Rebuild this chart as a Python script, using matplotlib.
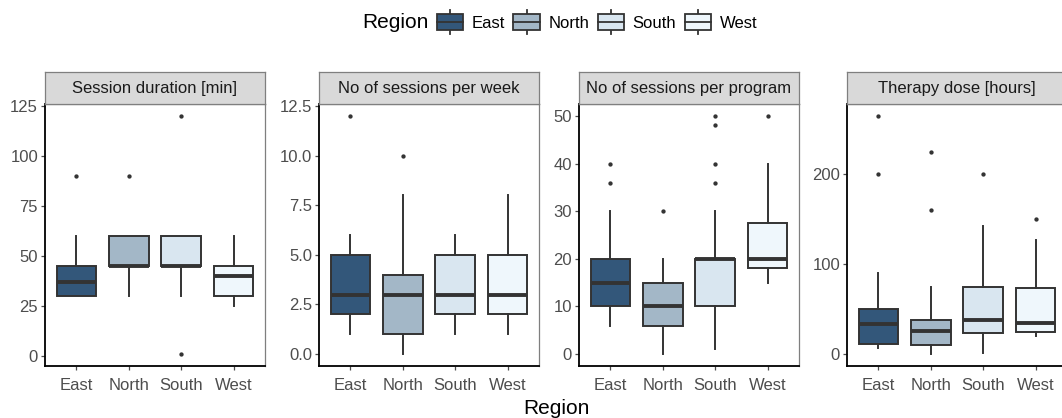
import matplotlib.pyplot as plt
from matplotlib.patches import Rectangle, Patch
from matplotlib.lines import Line2D
from matplotlib.legend_handler import HandlerBase
from matplotlib.ticker import FormatStrFormatter

plt.rcParams['font.family'] = ['Liberation Sans', 'DejaVu Sans']

regions = ['East', 'North', 'South', 'West']
colors = ['#33577A', '#A3B7C7', '#D9E6F0', '#EFF7FC']

titles = ['Session duration [min]', 'No of sessions per week',
          'No of sessions per program', 'Therapy dose [hours]']

# session duration [min]
dur_lo = [30, 30, 30, 25]
dur_q1 = [30, 45, 45, 30]
dur_med = [37, 45, 45, 40]
dur_q3 = [45, 60, 60, 45]
dur_hi = [60, 60, 60, 60]
dur_out = [[90], [90], [120, 1], []]

# sessions per week
week_lo = [1, 0, 1, 1]
week_q1 = [2, 1, 2, 2]
week_med = [3, 3, 3, 3]
week_q3 = [5, 4, 5, 5]
week_hi = [6, 8, 6, 8]
week_out = [[12], [10], [], []]

# sessions per program
prog_lo = [6, 0, 1, 15]
prog_q1 = [10, 6, 10.2, 18]
prog_med = [15, 10, 20, 20]
prog_q3 = [20, 15, 20, 27.5]
prog_hi = [30, 20, 30, 40]
prog_out = [[36, 40], [30], [36, 40, 48, 50], [50]]

# therapy dose [hours]
dose_lo = [7, 0, 1, 20]
dose_q1 = [11, 10, 23, 25]
dose_med = [33, 26, 38, 35]
dose_q3 = [50, 38, 75, 73]
dose_hi = [90, 75, 143, 127]
dose_out = [[200, 265], [160, 225], [200], [150]]

panels = [
    (dur_lo, dur_q1, dur_med, dur_q3, dur_hi, dur_out),
    (week_lo, week_q1, week_med, week_q3, week_hi, week_out),
    (prog_lo, prog_q1, prog_med, prog_q3, prog_hi, prog_out),
    (dose_lo, dose_q1, dose_med, dose_q3, dose_hi, dose_out),
]
yticks = [[0, 25, 50, 75, 100, 125],
          [0, 2.5, 5, 7.5, 10, 12.5],
          [0, 10, 20, 30, 40, 50],
          [0, 100, 200]]

W, H = 1062, 418
fig = plt.figure(figsize=(W / 100, H / 100), dpi=100)

lefts = [45, 319, 579, 847]
pw = 220
top, bottom, strip_top = 104, 366, 72
edge = '#333333'

for i, (lo, q1, med, q3, hi, out) in enumerate(panels):
    ax = fig.add_axes([lefts[i] / W, 1 - bottom / H, pw / W, (bottom - top) / H])
    stats = []
    for j in range(4):
        stats.append(dict(whislo=lo[j], q1=q1[j], med=med[j], q3=q3[j],
                          whishi=hi[j], fliers=out[j]))
    bp = ax.bxp(stats, positions=[1, 2, 3, 4], widths=0.76, patch_artist=True,
                showcaps=False,
                boxprops=dict(edgecolor=edge, linewidth=1.4),
                whiskerprops=dict(color=edge, linewidth=1.4),
                medianprops=dict(color=edge, linewidth=2.8, solid_capstyle='butt'),
                flierprops=dict(marker='o', markersize=2.1, markerfacecolor=edge,
                                markeredgecolor=edge, linestyle='none'))
    for patch, c in zip(bp['boxes'], colors):
        patch.set_facecolor(c)

    allv = lo + hi + [v for o in out for v in o]
    vmin, vmax = min(allv), max(allv)
    pad = (vmax - vmin) * 0.05
    ax.set_ylim(vmin - pad, vmax + pad)
    ax.set_xlim(0.4, 4.6)
    ax.set_xticks([1, 2, 3, 4])
    ax.set_xticklabels(regions)
    ax.set_yticks(yticks[i])
    if i == 1:
        ax.yaxis.set_major_formatter(FormatStrFormatter('%.1f'))
    ax.tick_params(labelsize=12, colors='#4D4D4D', length=3, width=0.9,
                   pad=2)
    ax.tick_params(axis='x', pad=5.5)
    for s in ['left', 'bottom']:
        ax.spines[s].set_color('black')
        ax.spines[s].set_linewidth(1.3)
    for s in ['right', 'top']:
        ax.spines[s].set_color('#7F7F7F')
        ax.spines[s].set_linewidth(0.9)

    sax = fig.add_axes([lefts[i] / W, 1 - top / H, pw / W, (top - strip_top) / H])
    sax.set_facecolor('#D9D9D9')
    sax.set_xticks([])
    sax.set_yticks([])
    for s in sax.spines.values():
        s.set_color('#7F7F7F')
        s.set_linewidth(0.9)
    sax.text(0.5, 0.5, titles[i], ha='center', va='center', fontsize=12,
             color='#1A1A1A', transform=sax.transAxes)

fig.text(556 / W, 1 - 408 / H, 'Region', ha='center', va='center', fontsize=15)


class BoxHandler(HandlerBase):
    def create_artists(self, legend, orig_handle, xdescent, ydescent,
                       width, height, fontsize, trans):
        x0, y0 = -xdescent, -ydescent
        xc = x0 + width / 2
        yc = y0 + height / 2
        whisk = Line2D([xc, xc], [y0 - 0.1 * height, y0 + 1.1 * height],
                       color=edge, lw=1.3, transform=trans)
        box = Rectangle((x0, y0 + 0.1 * height), width, 0.8 * height,
                        facecolor=orig_handle.get_facecolor(), edgecolor=edge,
                        lw=1.3, transform=trans)
        mline = Line2D([x0, x0 + width], [yc, yc], color=edge, lw=1.3,
                       transform=trans)
        return [whisk, box, mline]


handles = [Patch(facecolor=c) for c in colors]
fig.text(362 / W, 1 - 22 / H, 'Region', ha='left', va='center', fontsize=15)
fig.legend(handles, regions, loc='center', bbox_to_anchor=(597 / W, 1 - 22 / H),
           ncol=4, frameon=False, fontsize=12, handlelength=1.6,
           handleheight=1.4, handletextpad=0.5, columnspacing=0.5,
           borderpad=0, handler_map={Patch: BoxHandler()})

fig.savefig('out.png', dpi=100)
